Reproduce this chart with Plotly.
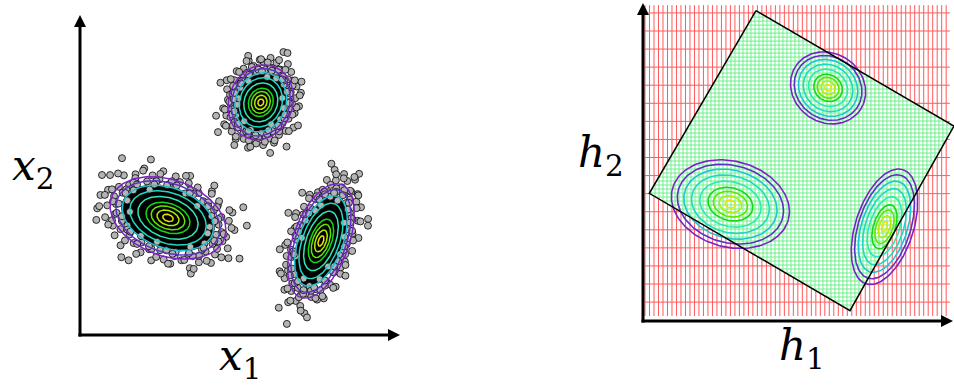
import numpy as np
import plotly.graph_objects as go

W, H = 954, 387

# ---------------- left panel: input space (x1, x2) ----------------
L_CENTER_X1 = [2.75, 7.53, 5.65]
L_CENTER_X2 = [3.66, 2.94, 7.27]
L_SEMI_MAJOR = [1.875, 1.875, 1.19]
L_SEMI_MINOR = [1.19, 0.875, 1.0]
L_ANGLE_DEG = [-20, 70, 70]
L_POINT_TURN = [0, 40, 100]

# ---------------- right panel: feature space (h1, h2) ----------------
R_CENTER_H1 = [2.82, 7.79, 5.97]
R_CENTER_H2 = [3.77, 3.04, 7.52]
R_SEMI_MAJOR = [1.935, 1.935, 1.258]
R_SEMI_MINOR = [1.387, 0.935, 1.113]
R_ANGLE_DEG = [-15, 72, -35]

# rotated square (image of the input domain) corners
SQUARE_H1 = [3.645, 10.03, 6.677, 0.203]
SQUARE_H2 = [10.01, 6.29, 0.332, 4.119]

# contour levels (relative radius of each contour) and colours
CONTOUR_LEVELS = [1.0, 0.9, 0.79, 0.66, 0.52, 0.38, 0.29, 0.19, 0.09]
CONTOUR_COLORS = ['#7d22c8', '#5c32c4', '#1fc4d4', '#1ed8c4', '#2ce8b4',
                  '#14d814', '#64e400', '#b4ec00', '#ece400']

# sample points, in each cluster's normalised frame (angle deg, radius)
PT_ANG = [3, 8, 15, 19, 26, 31, 36, 42, 47, 51, 58, 63, 69, 74, 78, 85, 91, 96, 101, 107,
          112, 118, 123, 127, 134, 139, 145, 150, 155, 161, 166, 172, 177, 182, 188, 193,
          199, 204, 209, 215, 220, 226, 231, 236, 242, 247, 252, 258, 263, 269, 274, 279,
          285, 290, 296, 301, 306, 312, 317, 322, 328, 333, 339, 344, 349, 355,
          12, 33, 55, 80, 104, 130, 152, 175, 197, 223, 245, 267, 292, 315, 337, 358,
          22, 66, 115, 160, 212, 255, 300, 345,
          6, 17, 28, 39, 45, 54, 61, 72, 83, 88, 99, 110, 116, 125, 137, 143, 148, 158,
          169, 180, 185, 196, 202, 213, 218, 229, 240, 250, 256, 265, 272, 283, 288, 299,
          304, 310, 320, 326, 335, 341, 352, 1, 24, 49, 76, 93, 120, 141, 164, 186, 207,
          233, 261, 281, 308, 330, 350, 135, 250, 40]
PT_RAD = [1.02, 0.93, 1.15, 0.88, 1.08, 0.97, 1.21, 0.91, 1.04, 1.12,
          0.86, 1.18, 0.95, 1.06, 0.9, 1.24, 0.99, 1.1, 0.87, 1.16,
          0.94, 1.03, 1.2, 0.89, 1.09, 0.96, 1.14, 0.92, 1.27, 1.0,
          0.88, 1.11, 0.97, 1.19, 0.9, 1.05, 1.23, 0.93, 1.13, 0.86,
          1.07, 0.98, 1.17, 0.91, 1.25, 1.01, 0.89, 1.12, 0.95, 1.2,
          0.87, 1.08, 1.15, 0.94, 1.03, 1.22, 0.9, 1.1, 0.96, 1.18,
          0.92, 1.06, 1.26, 0.88, 1.13, 0.99,
          0.72, 0.8, 0.68, 0.77, 0.83, 0.7, 0.79, 0.74, 0.66, 0.81, 0.76, 0.69, 0.84, 0.73, 0.78, 0.71,
          1.38, 1.33, 1.42, 1.36, 1.31, 1.45, 1.35, 1.4,
          0.97, 1.1, 0.9, 1.18, 1.0, 0.92, 1.13, 0.86, 1.05, 1.2, 0.95, 1.08, 0.89, 1.15,
          1.01, 0.93, 1.22, 0.88, 1.06, 1.12, 0.96, 1.19, 0.9, 1.03, 1.14, 0.87, 1.09, 0.98,
          1.21, 0.92, 1.07, 1.16, 0.89, 1.02, 1.24, 0.94, 1.11, 0.86, 1.17, 1.0, 0.93,
          0.85, 0.82, 0.86, 0.83, 0.88, 0.81, 0.87, 0.84, 0.86, 0.82, 0.85, 0.88, 0.83,
          0.86, 0.84, 0.87, 1.5, 1.48, 1.46]
CORE_RADIUS = 0.8

# grid spacings on the right panel
RED_V_STEP, RED_V_FROM, RED_V_TO = 0.145, 0.065, 9.9
RED_H_STEP, RED_H_FROM, RED_H_TO = 0.583, 0.61, 9.95
RED_BOTTOM, RED_TOP = 0.16, 10.19
GREEN_STEP = 0.129

# axis labels
LABEL_FONT = 'DejaVu Serif, serif'

# ---------------- layout geometry (pixel anchors) ----------------
L_PX = 32.0   # px per unit, left
R_PX = 31.0   # px per unit, right
L_ORIGIN = (80, 335)
R_ORIGIN = (643, 321)
L_DOM = (0, 470)
R_DOM = (560, 954)


def ellipse(cx, cy, a, b, ang, r, n=160):
    t = np.linspace(0, 2 * np.pi, n)
    ca, sa = np.cos(np.radians(ang)), np.sin(np.radians(ang))
    u, v = r * a * np.cos(t), r * b * np.sin(t)
    return cx + u * ca - v * sa, cy + u * sa + v * ca


def clip_line(c, px, py, vertical=True):
    vals = []
    n = len(px)
    for i in range(n):
        if vertical:
            p0, q0, p1, q1 = px[i], py[i], px[(i + 1) % n], py[(i + 1) % n]
        else:
            p0, q0, p1, q1 = py[i], px[i], py[(i + 1) % n], px[(i + 1) % n]
        if p0 != p1 and (p0 - c) * (p1 - c) <= 0:
            t = (c - p0) / (p1 - p0)
            vals.append(q0 + t * (q1 - q0))
    if len(vals) >= 2:
        return min(vals), max(vals)
    return None


fig = go.Figure()

# ======================= LEFT PANEL =======================
for i in range(3):
    ex, ey = ellipse(L_CENTER_X1[i], L_CENTER_X2[i], L_SEMI_MAJOR[i], L_SEMI_MINOR[i],
                     L_ANGLE_DEG[i], CORE_RADIUS)
    fig.add_trace(go.Scatter(x=ex, y=ey, mode='lines', fill='toself', fillcolor='black',
                             line=dict(color='black', width=1), xaxis='x', yaxis='y',
                             hoverinfo='skip', showlegend=False))
for i in range(3):
    ang = np.radians(np.array(PT_ANG) + L_POINT_TURN[i])
    rad = np.array(PT_RAD)
    u = rad * L_SEMI_MAJOR[i] * np.cos(ang)
    v = rad * L_SEMI_MINOR[i] * np.sin(ang)
    ca, sa = np.cos(np.radians(L_ANGLE_DEG[i])), np.sin(np.radians(L_ANGLE_DEG[i]))
    fig.add_trace(go.Scatter(x=L_CENTER_X1[i] + u * ca - v * sa,
                             y=L_CENTER_X2[i] + u * sa + v * ca,
                             mode='markers', xaxis='x', yaxis='y',
                             marker=dict(size=7, color='#b4b4b4',
                                         line=dict(color='black', width=0.8)),
                             hoverinfo='skip', showlegend=False))
for i in range(3):
    for lev, col in zip(CONTOUR_LEVELS, CONTOUR_COLORS):
        ex, ey = ellipse(L_CENTER_X1[i], L_CENTER_X2[i], L_SEMI_MAJOR[i], L_SEMI_MINOR[i],
                         L_ANGLE_DEG[i], lev)
        fig.add_trace(go.Scatter(x=ex, y=ey, mode='lines', line=dict(color=col, width=1.5),
                                 xaxis='x', yaxis='y', hoverinfo='skip', showlegend=False))

# left axes arrows
fig.add_trace(go.Scatter(x=[0, 0, None, -0.05, 9.8], y=[9.8, -0.05, None, 0, 0], mode='lines',
                         line=dict(color='black', width=3), xaxis='x', yaxis='y',
                         hoverinfo='skip', showlegend=False))
fig.add_trace(go.Scatter(x=[0], y=[10], mode='markers', xaxis='x', yaxis='y',
                         marker=dict(symbol='arrow-up', size=12, color='black'),
                         hoverinfo='skip', showlegend=False))
fig.add_trace(go.Scatter(x=[10], y=[0], mode='markers', xaxis='x', yaxis='y',
                         marker=dict(symbol='arrow-right', size=12, color='black'),
                         hoverinfo='skip', showlegend=False))

# ======================= RIGHT PANEL =======================
rx, ry = [], []
for c in np.arange(RED_V_FROM, RED_V_TO + 1e-9, RED_V_STEP):
    rx += [c, c, None]
    ry += [RED_BOTTOM, RED_TOP, None]
for c in np.arange(RED_H_FROM, RED_H_TO + 1e-9, RED_H_STEP):
    rx += [RED_V_FROM, RED_V_TO, None]
    ry += [c, c, None]
fig.add_trace(go.Scatter(x=rx, y=ry, mode='lines', line=dict(color='#ff5a5a', width=1),
                         xaxis='x2', yaxis='y2', hoverinfo='skip', showlegend=False))

fig.add_trace(go.Scatter(x=SQUARE_H1 + [SQUARE_H1[0]], y=SQUARE_H2 + [SQUARE_H2[0]],
                         mode='lines', fill='toself', fillcolor='white',
                         line=dict(color='white', width=0), xaxis='x2', yaxis='y2',
                         hoverinfo='skip', showlegend=False))

gx, gy = [], []
for c in np.arange(0, 10.1, GREEN_STEP):
    seg = clip_line(c, SQUARE_H1, SQUARE_H2, vertical=True)
    if seg:
        gx += [c, c, None]
        gy += [seg[0], seg[1], None]
    seg = clip_line(c, SQUARE_H1, SQUARE_H2, vertical=False)
    if seg:
        gx += [seg[0], seg[1], None]
        gy += [c, c, None]
fig.add_trace(go.Scatter(x=gx, y=gy, mode='lines', line=dict(color='#6ef08c', width=1),
                         xaxis='x2', yaxis='y2', hoverinfo='skip', showlegend=False))

for i in range(3):
    for lev, col in zip(CONTOUR_LEVELS, CONTOUR_COLORS):
        ex, ey = ellipse(R_CENTER_H1[i], R_CENTER_H2[i], R_SEMI_MAJOR[i], R_SEMI_MINOR[i],
                         R_ANGLE_DEG[i], lev)
        fig.add_trace(go.Scatter(x=ex, y=ey, mode='lines', line=dict(color=col, width=1.6),
                                 xaxis='x2', yaxis='y2', hoverinfo='skip', showlegend=False))

fig.add_trace(go.Scatter(x=SQUARE_H1 + [SQUARE_H1[0]], y=SQUARE_H2 + [SQUARE_H2[0]],
                         mode='lines', line=dict(color='black', width=1.5),
                         xaxis='x2', yaxis='y2', hoverinfo='skip', showlegend=False))

R_TOP = (R_ORIGIN[1] - 3) / R_PX
R_RIGHT = (953 - R_ORIGIN[0]) / R_PX
fig.add_trace(go.Scatter(x=[0, 0, None, -0.05, R_RIGHT - 0.2],
                         y=[R_TOP - 0.2, -0.05, None, 0, 0], mode='lines',
                         line=dict(color='black', width=3), xaxis='x2', yaxis='y2',
                         hoverinfo='skip', showlegend=False))
fig.add_trace(go.Scatter(x=[0], y=[R_TOP], mode='markers', xaxis='x2', yaxis='y2',
                         marker=dict(symbol='arrow-up', size=12, color='black'),
                         hoverinfo='skip', showlegend=False))
fig.add_trace(go.Scatter(x=[R_RIGHT], y=[0], mode='markers', xaxis='x2', yaxis='y2',
                         marker=dict(symbol='arrow-right', size=12, color='black'),
                         hoverinfo='skip', showlegend=False))

# ---------------- labels ----------------
ann = [
    dict(text='<i>x</i><sub>2</sub>', x=-1.47, y=5.2, xref='x', yref='y'),
    dict(text='<i>x</i><sub>1</sub>', x=5.0, y=-0.72, xref='x', yref='y'),
    dict(text='<i>h</i><sub>2</sub>', x=-1.355, y=5.35, xref='x2', yref='y2'),
    dict(text='<i>h</i><sub>1</sub>', x=5.13, y=-0.9, xref='x2', yref='y2'),
]
for a in ann:
    a.update(showarrow=False, font=dict(family=LABEL_FONT, size=42, color='black'),
             xanchor='center', yanchor='middle')


def axis_range(dom, origin, px_per_unit, flip=False):
    lo, hi = dom
    if not flip:
        return [(lo - origin) / px_per_unit, (hi - origin) / px_per_unit]
    return [(origin - hi) / px_per_unit, (origin - lo) / px_per_unit]


hidden = dict(visible=False, showgrid=False, zeroline=False, fixedrange=True)
fig.update_layout(
    width=W, height=H, margin=dict(l=0, r=0, t=0, b=0),
    paper_bgcolor='white', plot_bgcolor='white', showlegend=False,
    font=dict(family=LABEL_FONT),
    xaxis=dict(domain=[L_DOM[0] / W, L_DOM[1] / W],
               range=axis_range(L_DOM, L_ORIGIN[0], L_PX), **hidden),
    yaxis=dict(domain=[0, 1], range=axis_range((0, H), L_ORIGIN[1], L_PX, flip=True), **hidden),
    xaxis2=dict(domain=[R_DOM[0] / W, R_DOM[1] / W],
                range=axis_range(R_DOM, R_ORIGIN[0], R_PX), anchor='y2', **hidden),
    yaxis2=dict(domain=[0, 1], range=axis_range((0, H), R_ORIGIN[1], R_PX, flip=True),
                anchor='x2', **hidden),
    annotations=ann,
)

fig.write_html("out.html")
